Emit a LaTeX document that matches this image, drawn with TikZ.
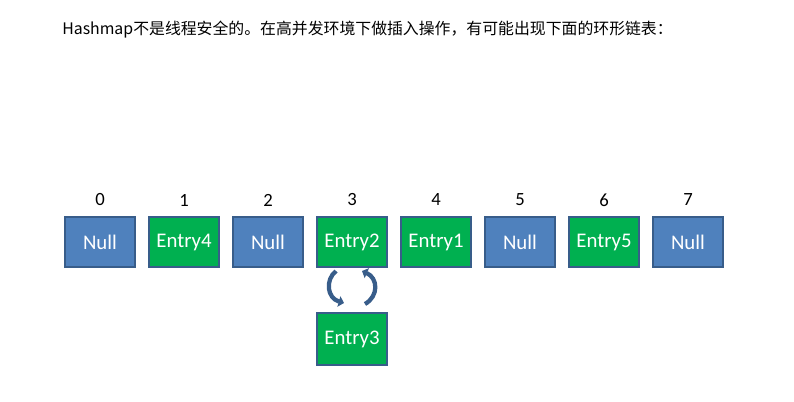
\documentclass[tikz,border=0pt]{standalone}
\usepackage{fontspec}
\setmainfont{Carlito}
\newfontfamily\cjk{Noto Sans CJK SC}
\usetikzlibrary{arrows.meta}
\definecolor{nullblue}{HTML}{4F81BD}
\definecolor{entrygreen}{HTML}{00B050}
\definecolor{edgeblue}{HTML}{385D8A}
\begin{document}
\begin{tikzpicture}[x=0.75pt,y=-0.75pt,
  cell/.style={draw=edgeblue,line width=1.5pt,minimum width=52.5pt,minimum height=37.5pt,inner sep=0pt,text=white,font=\fontsize{15.6}{18}\selectfont},
  nullcell/.style={cell,fill=nullblue},
  entrycell/.style={cell,fill=entrygreen},
  idx/.style={font=\fontsize{14}{16}\selectfont,text=black},
  loop/.style={draw=edgeblue,line width=3.2pt,-{Triangle[width=8pt,length=4pt]}}]
\useasboundingbox[fill=white] (0,0) rectangle (794,401);
\node[anchor=west,inner sep=0pt,font=\cjk\fontsize{11.9}{15}\selectfont] (title) at (62,30) {Hashmap不是线程安全的。在高并发环境下做插入操作，有可能出现下面的环形链表：};
\foreach \i in {0,...,7} {\node[idx] (i\i) at (100+84*\i,200) {\i};}
\node[nullcell] (b0) at (100,242) {Null};
\node[entrycell] (b1) at (184,242) {Entry4};
\node[nullcell] (b2) at (268,242) {Null};
\node[entrycell] (b3) at (352,242) {Entry2};
\node[entrycell] (b4) at (436,242) {Entry1};
\node[nullcell] (b5) at (520,242) {Null};
\node[entrycell] (b6) at (604,242) {Entry5};
\node[nullcell] (b7) at (688,242) {Null};
\node[entrycell,minimum height=39pt] (e3) at (352,339) {Entry3};
\coordinate (la) at (336,271);
\coordinate (lb) at (344,303);
\coordinate (ra) at (365,304);
\coordinate (rb) at (362,271);
\draw[loop] (la) .. controls (325,280) and (327,298) .. (lb);
\draw[loop] (ra) .. controls (379,296) and (378,278) .. (rb);
\end{tikzpicture}
\end{document}
